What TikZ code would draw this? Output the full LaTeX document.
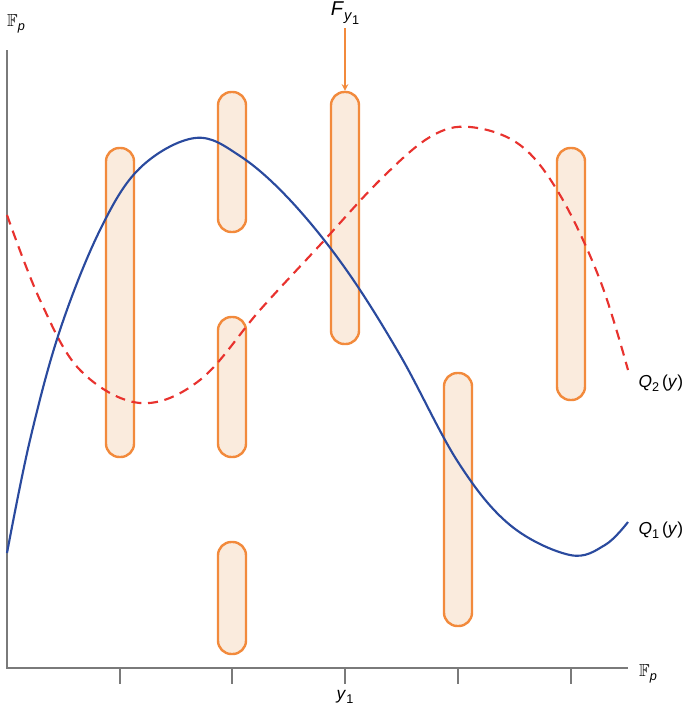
\documentclass[tikz,border=0pt]{standalone}
\usepackage{amssymb}
\usepackage{fontspec}
\setmainfont{Liberation Sans}
\usepackage{tikz}
\definecolor{capsuleorange}{HTML}{F28A3C}
\definecolor{capsulefill}{HTML}{FAEBDD}
\definecolor{curveblue}{HTML}{2A4A9E}
\definecolor{curvered}{HTML}{E8322E}
\definecolor{axisgray}{HTML}{7A7A7A}

% lowered text subscript
\newcommand{\lowsub}[1]{\raisebox{-0.45ex}{\fontsize{9.5}{10}\selectfont #1}}

\tikzset{
  capsule/.style={draw=capsuleorange, fill=capsulefill, line width=1.8pt,
                  rounded corners=10pt, minimum width=21pt, inner sep=0pt},
  axisline/.style={draw=axisgray, line width=0.9pt},
  label/.style={font=\fontsize{13}{15}\selectfont, inner sep=1pt}
}

\begin{document}
\begin{tikzpicture}[x=0.75pt, y=-0.75pt]

\useasboundingbox (0, 0) rectangle (685, 707);

% draw axes and ticks
\draw[axisline] (7, 50) -- (7, 668) -- (628, 668);
\foreach \tx in {120, 232, 345, 458, 571}
  \draw[axisline] (\tx, 668) -- (\tx, 684);

% draw capsules
\node[capsule, minimum height=231.75pt] (c1)  at (120, 302.5) {};
\node[capsule, minimum height=105pt]    (c2a) at (232, 162)   {};
\node[capsule, minimum height=105pt]    (c2b) at (232, 387)   {};
\node[capsule, minimum height=84pt]     (c2c) at (232, 598)   {};
\node[capsule, minimum height=189pt]    (c3)  at (345, 218)   {};
\node[capsule, minimum height=189.75pt] (c4)  at (458, 499.5) {};
\node[capsule, minimum height=189pt]    (c5)  at (571, 274)   {};

% draw Q_2 (dashed)
\draw[curvered, line width=1.6pt, dash pattern=on 7.5pt off 5pt]
  plot[smooth, tension=0.6] coordinates {(7, 215) (40, 300) (80, 370) (140, 403)
    (200, 380) (260, 310) (320, 245) (380, 180) (430, 137) (470, 127)
    (520, 145) (560, 195) (600, 280) (628, 370)};

% draw Q_1
\draw[curveblue, line width=1.6pt]
  plot[smooth, tension=0.6] coordinates {(7, 553) (30, 440) (60, 330) (100, 230)
    (140, 168) (195, 138) (240, 156) (290, 200) (345, 268) (400, 355)
    (458, 462) (510, 525) (570, 555) (605, 545) (628, 522)};

% draw labels
\node[label] (fp1) at (16, 24)  {$\mathbb{F}$\lowsub{\textit{p}}};
\node[label] (fp2) at (648, 674) {$\mathbb{F}$\lowsub{\textit{p}}};
\node[label] (y1)  at (345, 697) {\textit{y}\lowsub{1}};
\node[label, font=\fontsize{15}{17}\selectfont] (fy) at (345, 13)
  {\textit{F}\raisebox{-0.5ex}{\fontsize{11}{12}\selectfont\textit{y}\lowsub{1}}};
\node[label, anchor=west] (q2) at (637, 383) {\textit{Q}\lowsub{2}\,(\textit{y})};
\node[label, anchor=west] (q1) at (637, 530) {\textit{Q}\lowsub{1}\,(\textit{y})};

% draw arrow to capsule
\draw[capsuleorange, line width=1.2pt, -stealth] (345, 28) -- (c3.north);

\end{tikzpicture}
\end{document}
